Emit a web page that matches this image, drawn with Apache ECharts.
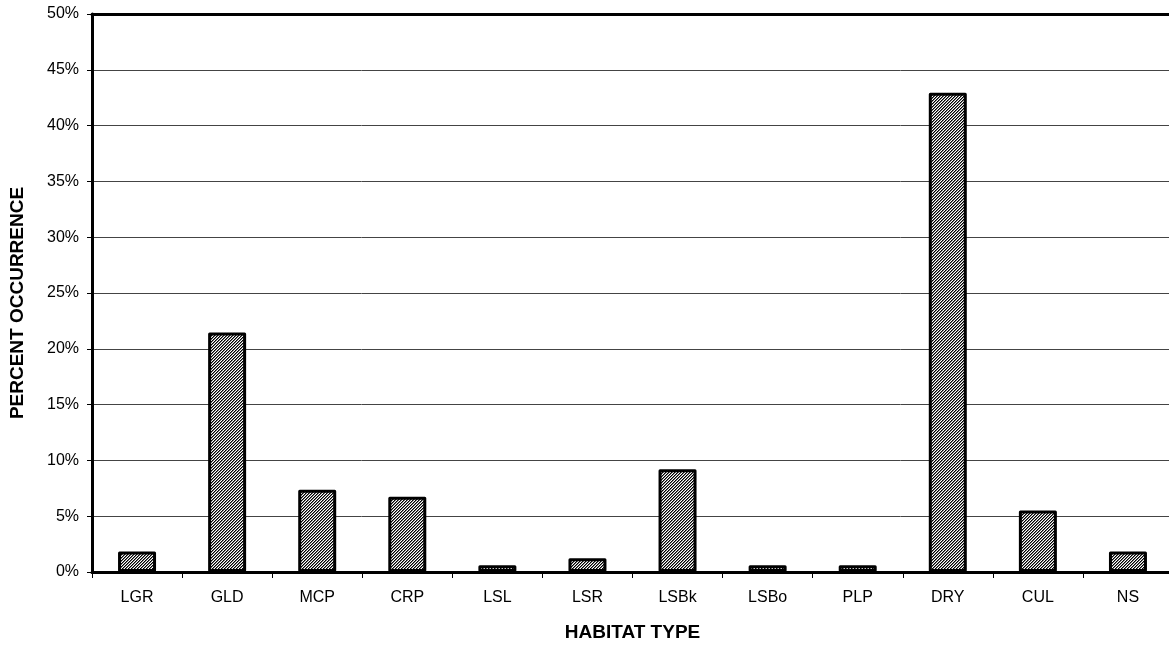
<!DOCTYPE html>
<html>
<head>
<meta charset="utf-8">
<script src="https://cdn.jsdelivr.net/npm/echarts@6/dist/echarts.min.js"></script>
<style>
html,body{margin:0;padding:0;background:#fff;}
#chart{width:1169px;height:646px;}
</style>
</head>
<body>
<div id="chart"></div>
<script>
const categories = ['LGR','GLD','MCP','CRP','LSL','LSR','LSBk','LSBo','PLP','DRY','CUL','NS'];
const percentValues = [1.84, 21.47, 7.36, 6.75, 0.61, 1.23, 9.20, 0.61, 0.61, 42.94, 5.52, 1.84];
const yMin = 0, yMax = 50, yStep = 5;

function hatch() {
  const c = document.createElement('canvas');
  c.width = 3; c.height = 3;
  const g = c.getContext('2d');
  g.fillStyle = '#fff';
  g.fillRect(0, 0, 3, 3);
  for (let x = 0; x < 3; x++) {
    for (let y = 0; y < 3; y++) {
      const k = (x + y) % 3;
      if (k === 0) { g.fillStyle = '#000'; g.fillRect(x, y, 1, 1); }
      else if (k === 1) { g.fillStyle = '#777'; g.fillRect(x, y, 1, 1); }
    }
  }
  return c;
}

const chart = echarts.init(document.getElementById('chart'), null, {renderer: 'canvas'});
const font = 'Arial, "Liberation Sans", sans-serif';
chart.setOption({
  animation: false,
  backgroundColor: '#fff',
  grid: {left: 92, top: 14, right: -4, bottom: 74, containLabel: false, outerBoundsMode: 'none'},
  xAxis: [{
    type: 'category',
    data: categories,
    position: 'bottom',
    name: 'HABITAT TYPE',
    nameLocation: 'middle',
    nameGap: 51,
    nameTextStyle: {fontFamily: font, fontWeight: 'bold', fontSize: 19, color: '#000'},
    axisLine: {show: true, lineStyle: {color: '#000', width: 3}},
    axisTick: {show: true, length: 6, lineStyle: {color: '#000', width: 1}},
    axisLabel: {fontFamily: font, fontSize: 16, color: '#000', margin: 18}
  }, {
    type: 'category',
    data: categories,
    position: 'top',
    axisLine: {show: true, lineStyle: {color: '#000', width: 3}},
    axisTick: {show: false},
    axisLabel: {show: false}
  }],
  yAxis: {
    type: 'value',
    min: yMin, max: yMax, interval: yStep,
    name: 'PERCENT OCCURRENCE',
    nameLocation: 'middle',
    nameGap: 65,
    nameTextStyle: {fontFamily: font, fontWeight: 'bold', fontSize: 19, color: '#000', padding: [0, 20, 0, 0]},
    axisLine: {show: true, lineStyle: {color: '#000', width: 3}},
    axisTick: {show: true, length: 5, lineStyle: {color: '#000', width: 1}},
    axisLabel: {fontFamily: font, fontSize: 16, color: '#000', margin: 13, formatter: v => v + '%'},
    splitLine: {show: true, lineStyle: {color: '#444', width: 1}}
  },
  series: [{
    type: 'bar',
    data: percentValues,
    barWidth: 38,
    itemStyle: {
      color: {image: hatch(), repeat: 'repeat'},
      borderColor: '#000',
      borderWidth: 3,
      borderJoin: 'round'
    }
  }]
});
</script>
</body>
</html>
